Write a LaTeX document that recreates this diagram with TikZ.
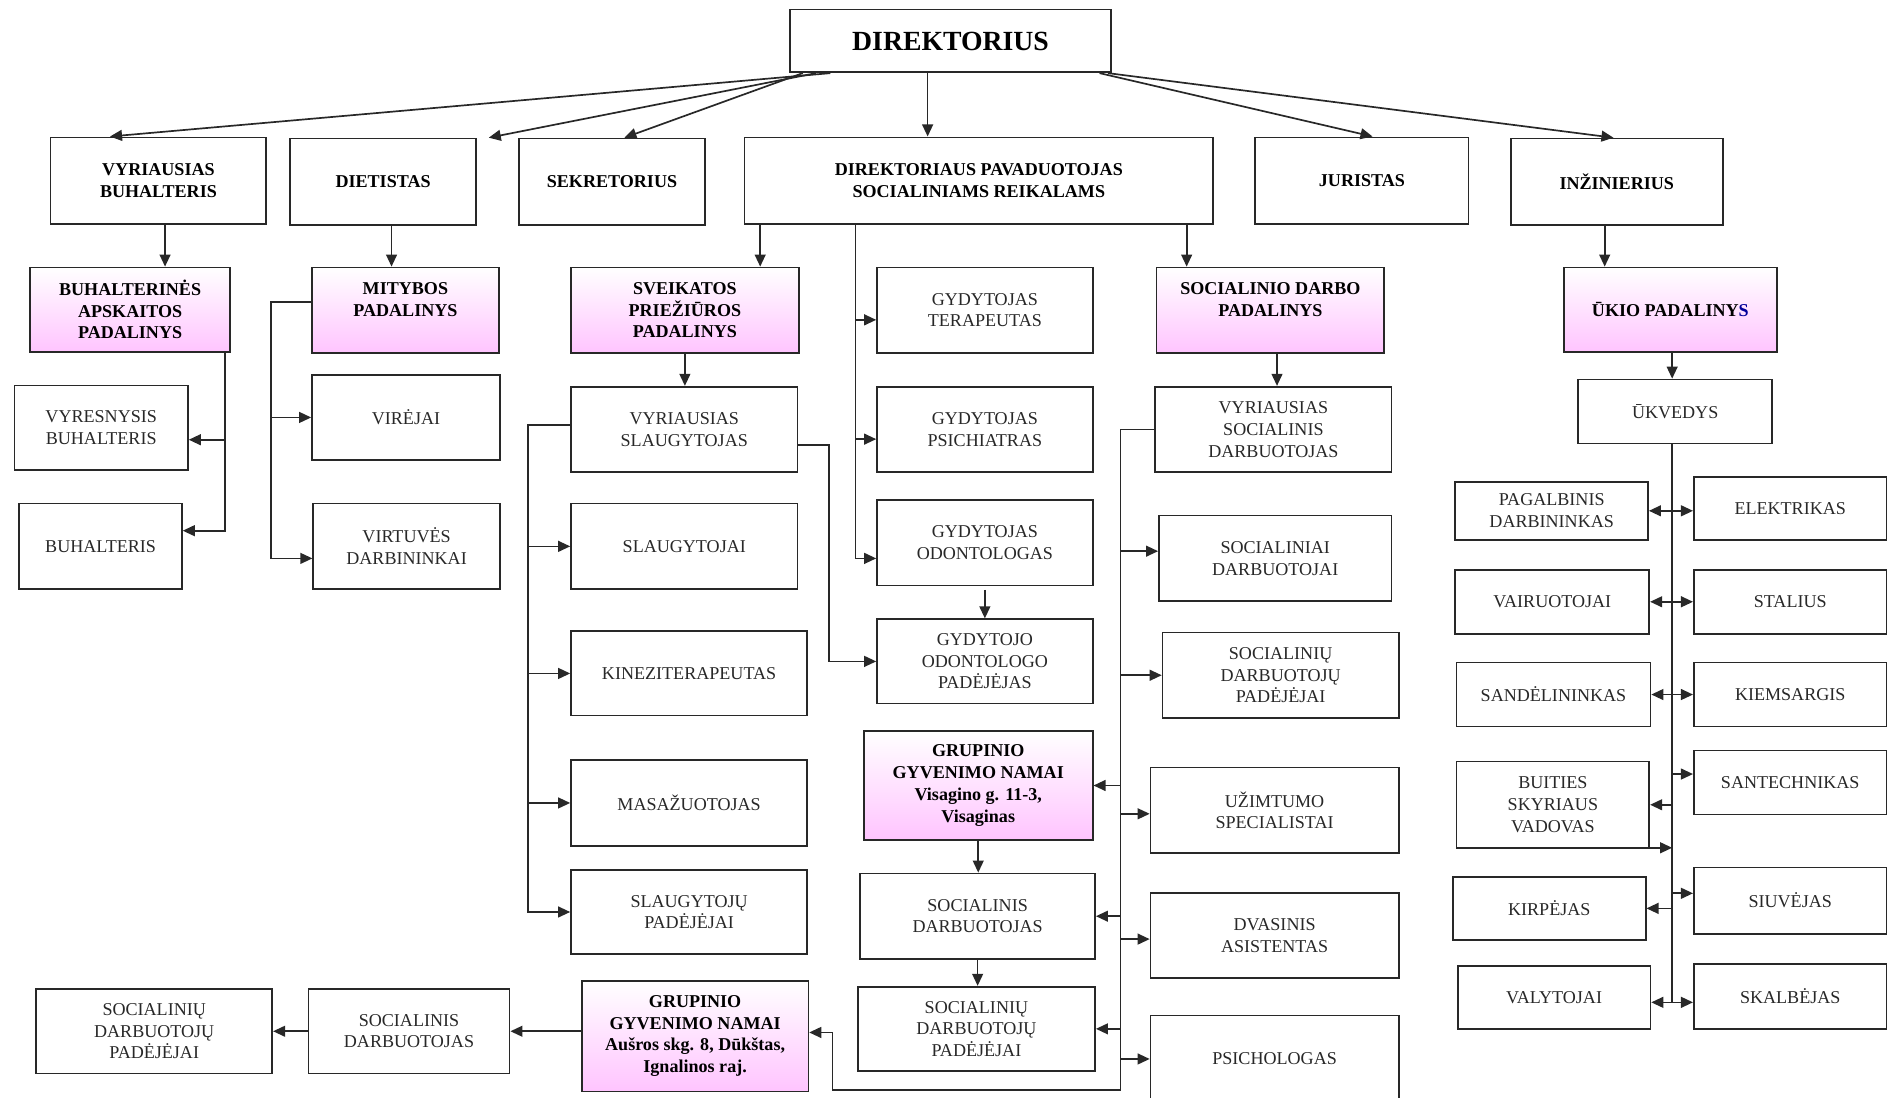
\documentclass[tikz,border=0pt]{standalone}
\usepackage{fontspec}
\setmainfont{Liberation Serif}
\usetikzlibrary{arrows.meta}
\definecolor{pinkb}{RGB}{255,196,255}
\definecolor{ink}{RGB}{40,40,40}
\tikzset{
  box/.style={draw=ink, line width=1.4pt, fill=white, align=center, inner sep=1pt, text=ink, font=\fontsize{15}{18}\selectfont},
  bbox/.style={box, text=black, font=\bfseries\fontsize{15}{18}\selectfont},
  pbox/.style={bbox, top color=white, bottom color=pinkb},
  arr/.style={draw=ink, line width=1.4pt, -{Triangle[length=10pt,width=9pt]}},
  ln/.style={draw=ink, line width=1.4pt},
}
\newcommand\orgbox[7]{%
  \pgfmathsetmacro\obw{#5-#3}%
  \pgfmathsetmacro\obh{#6-#4}%
  \node[#1, minimum width=\obw pt, minimum height=\obh pt] (#2) at ({(#3+#5)/2},{(#4+#6)/2}) {#7};}
\begin{document}
\begin{tikzpicture}[x=1pt,y=-1pt]
\path[use as bounding box] (0,0) rectangle (1568,911.4);
\fill[white] (0,0) rectangle (1568,911.4);
\clip (0,0) rectangle (1568,911.4);
% top level
\orgbox{bbox, font=\bfseries\fontsize{23}{27}\selectfont}{dir}{656}{8}{922}{60}{DIREKTORIUS}
\orgbox{bbox}{vb}{42}{114}{221}{186}{VYRIAUSIAS\\BUHALTERIS}
\orgbox{bbox}{diet}{241}{115}{395}{187}{DIETISTAS}
\orgbox{bbox}{sek}{431}{115}{585}{187}{SEKRETORIUS}
\orgbox{bbox}{dpsr}{618}{114}{1007}{186}{DIREKTORIAUS PAVADUOTOJAS\\SOCIALINIAMS REIKALAMS}
\orgbox{bbox}{jur}{1042}{114}{1219}{186}{JURISTAS}
\orgbox{bbox}{inz}{1254}{115}{1430}{187}{INŽINIERIUS}
% second row
\orgbox{pbox}{bap}{25}{222}{191}{292}{BUHALTERINĖS\\APSKAITOS\\PADALINYS}
\orgbox{pbox}{mit}{259}{222}{414}{293}{MITYBOS\\PADALINYS\\\mbox{}}
\orgbox{pbox}{sp}{474}{222}{663}{293}{SVEIKATOS\\PRIEŽIŪROS\\PADALINYS}
\orgbox{box}{gt}{728}{222}{907}{293}{GYDYTOJAS\\TERAPEUTAS}
\orgbox{pbox}{sdp}{960}{222}{1149}{293}{SOCIALINIO DARBO\\PADALINYS\\\mbox{}}
\orgbox{pbox}{ukp}{1298}{222}{1475}{292}{ŪKIO PADALINY\textcolor{blue!60!black}{S}}
% accounting / kitchen
\orgbox{box}{vbuh}{12}{320}{156}{390}{VYRESNYSIS\\BUHALTERIS}
\orgbox{box}{buh}{16}{418}{151}{489}{BUHALTERIS}
\orgbox{box}{vir}{259}{311}{415}{382}{VIRĖJAI}
\orgbox{box}{virt}{260}{418}{415}{489}{VIRTUVĖS\\DARBININKAI}
% health
\orgbox{box}{vsl}{474}{321}{662}{392}{VYRIAUSIAS\\SLAUGYTOJAS}
\orgbox{box}{sla}{474}{418}{662}{489}{SLAUGYTOJAI}
\orgbox{box}{kin}{474}{524}{670}{594}{KINEZITERAPEUTAS}
\orgbox{box}{mas}{474}{631}{670}{702}{MASAŽUOTOJAS}
\orgbox{box}{slp}{474}{722}{670}{792}{SLAUGYTOJŲ\\PADĖJĖJAI}
\orgbox{box}{gps}{728}{321}{907}{392}{GYDYTOJAS\\PSICHIATRAS}
\orgbox{box}{god}{728}{415}{907}{486}{GYDYTOJAS\\ODONTOLOGAS}
\orgbox{box}{gop}{728}{514}{907}{584}{GYDYTOJO\\ODONTOLOGO\\PADĖJĖJAS}
% group homes
\orgbox{pbox}{ggv}{717}{607}{907}{697}{GRUPINIO\\GYVENIMO NAMAI\\Visagino g. 11-3,\\Visaginas}
\orgbox{box}{sd1}{714}{725}{909}{796}{SOCIALINIS\\DARBUOTOJAS}
\orgbox{box}{sdpad1}{712}{819}{909}{889}{SOCIALINIŲ\\DARBUOTOJŲ\\PADĖJĖJAI}
\orgbox{pbox}{gga}{483}{814}{671}{906}{GRUPINIO\\GYVENIMO NAMAI\\Aušros skg. 8, Dūkštas,\\Ignalinos raj.}
\orgbox{box}{sd2}{256}{821}{423}{891}{SOCIALINIS\\DARBUOTOJAS}
\orgbox{box}{sdpad2}{30}{821}{226}{891}{SOCIALINIŲ\\DARBUOTOJŲ\\PADĖJĖJAI}
% social work
\orgbox{box}{vsd}{959}{321}{1155}{392}{VYRIAUSIAS\\SOCIALINIS\\DARBUOTOJAS}
\orgbox{box}{sdj}{962}{428}{1155}{499}{SOCIALINIAI\\DARBUOTOJAI}
\orgbox{box}{sdjp}{965}{525}{1161}{596}{SOCIALINIŲ\\DARBUOTOJŲ\\PADĖJĖJAI}
\orgbox{box}{uzs}{955}{637}{1161}{708}{UŽIMTUMO\\SPECIALISTAI}
\orgbox{box}{dva}{955}{741}{1161}{812}{DVASINIS\\ASISTENTAS}
\orgbox{box}{psi}{955}{843}{1161}{915}{PSICHOLOGAS}
% household
\orgbox{box}{ukv}{1310}{315}{1471}{368}{ŪKVEDYS}
\orgbox{box}{pag}{1208}{400}{1368}{448}{PAGALBINIS\\DARBININKAS}
\orgbox{box}{vai}{1208}{473}{1369}{526}{VAIRUOTOJAI}
\orgbox{box}{san}{1209}{550}{1370}{603}{SANDĖLININKAS}
\orgbox{box}{bui}{1209}{632}{1369}{704}{BUITIES\\SKYRIAUS\\VADOVAS}
\orgbox{box}{kir}{1206}{728}{1366}{780}{KIRPĖJAS}
\orgbox{box}{val}{1210}{802}{1370}{854}{VALYTOJAI}
\orgbox{box}{ele}{1406}{396}{1566}{448}{ELEKTRIKAS}
\orgbox{box}{sta}{1406}{473}{1566}{526}{STALIUS}
\orgbox{box}{kie}{1406}{550}{1566}{603}{KIEMSARGIS}
\orgbox{box}{ste}{1406}{623}{1566}{676}{SANTECHNIKAS}
\orgbox{box}{siu}{1406}{720}{1566}{775}{SIUVĖJAS}
\orgbox{box}{ska}{1406}{800}{1566}{854}{SKALBĖJAS}
% helper coordinates
\coordinate (xVB) at (137,0);
\coordinate (xDI) at (325,0);
\coordinate (xSP) at (631,0);
\coordinate (xSD) at (985,0);
\coordinate (xIN) at (1332,0);
\coordinate (xBA) at (187,0);
\coordinate (xMI) at (225,0);
\coordinate (xSL) at (438,0);
\coordinate (xGO) at (688,0);
\coordinate (xDP) at (710,0);
\coordinate (xSDP) at (1060,0);
\coordinate (xSW) at (930,0);
\coordinate (xGG) at (691,0);
\coordinate (yBT) at (0,905);
\coordinate (xUK) at (1388,0);
\coordinate (xCT) at (770,0);
\coordinate (vbuhIn) at ([yshift=-10pt]vbuh.east);
\coordinate (buhIn) at ([yshift=13pt]buh.east);
\coordinate (virtIn) at ([yshift=-10pt]virt.west);
\coordinate (vslL) at ([yshift=4pt]vsl.west);
\coordinate (vslR) at ([yshift=-13pt]vsl.east);
\coordinate (mitL) at ([yshift=7pt]mit.west);
\coordinate (gtIn) at ([yshift=-8pt]gt.west);
\coordinate (gpsIn) at ([yshift=-8pt]gps.west);
\coordinate (godIn) at ([yshift=-13pt]god.west);
\coordinate (sdjIn) at ([yshift=6pt]sdj.west);
\coordinate (uzsIn) at ([yshift=-3pt]uzs.west);
\coordinate (dvaIn) at ([yshift=-3pt]dva.west);
\coordinate (ggaIn) at ([yshift=3pt]gga.east);
\coordinate (steIn) at ([yshift=7pt]ste.west);
\coordinate (siuIn) at ([yshift=6pt]siu.west);
\coordinate (valIn) at ([yshift=-4pt]val.east);
\coordinate (buiOut) at ([yshift=1pt]bui.south east);
% director connectors
\draw[arr] ([xshift=34pt]dir.south west) -- ([xshift=50pt]vb.north west);
\draw[arr] ([xshift=22pt]dir.south west) -- ([xshift=10pt]diet.north east);
\draw[arr] ([xshift=11pt]dir.south west) -- ([xshift=88pt]sek.north west);
\draw[arr] (dir.south -| xCT) -- (dpsr.north -| xCT);
\draw[arr] ([xshift=-10pt]dir.south east) -- ([xshift=98pt]jur.north west);
\draw[arr] ([xshift=-3pt]dir.south east) -- ([xshift=86pt]inz.north west);
% second level
\draw[arr] (vb.south -| xVB) -- (bap.north -| xVB);
\draw[arr] (diet.south -| xDI) -- (mit.north -| xDI);
\draw[arr] (dpsr.south -| xSP) -- (sp.north -| xSP);
\draw[arr] (dpsr.south -| xSD) -- (sdp.north -| xSD);
\draw[arr] (inz.south -| xIN) -- (ukp.north -| xIN);
% accounting
\draw[arr] (bap.south -| xBA) |- (buhIn);
\draw[arr] (xBA |- vbuhIn) -- (vbuhIn);
% kitchen
\draw[arr] (mitL) -| (xMI |- virtIn) -- (virtIn);
\draw[arr] (xMI |- vir.west) -- (vir.west);
% health
\draw[arr] (sp.south) -- (sp.south |- vsl.north);
\draw[arr] (vslL) -| (xSL |- slp.west) -- (slp.west);
\foreach \n in {sla,kin,mas} \draw[arr] (xSL |- \n.west) -- (\n.west);
\draw[arr] (vslR) -| (xGO |- gop.west) -- (gop.west);
\draw[arr] (dpsr.south -| xDP) |- (godIn);
\draw[arr] (xDP |- gtIn) -- (gtIn);
\draw[arr] (xDP |- gpsIn) -- (gpsIn);
\draw[arr] ([yshift=-3pt]god.south) -- (gop.north);
% group home Visaginas
\draw[arr] (ggv.south) -- (ggv.south |- sd1.north);
\draw[arr] (sd1.south) -- (sd1.south |- sdpad1.north);
% social work
\draw[arr] (sdp.south -| xSDP) -- (vsd.north -| xSDP);
\draw[arr] (vsd.west) -| (xSW |- yBT) -| (xGG |- ggaIn) -- (ggaIn);
\foreach \c in {sdjIn, sdjp.west, uzsIn, dvaIn, psi.west} \draw[arr] (xSW |- \c) -- (\c);
\foreach \n in {ggv, sd1, sdpad1} \draw[arr] (xSW |- \n.east) -- (\n.east);
% group home Dukstas
\draw[arr] (gga.west |- sd2.east) -- (sd2.east);
\draw[arr] (sd2.west) -- (sdpad2.east);
% household
\draw[arr] (ukp.south -| xUK) -- (ukv.north -| xUK);
\draw[ln] (ukv.south -| xUK) -- (xUK |- valIn);
\foreach \l/\r in {pag/ele, vai/sta, san/kie} {
  \draw[arr] (xUK |- \l.east) -- (\l.east);
  \draw[arr] (xUK |- \l.east) -- (\r.west |- \l.east);
}
\draw[arr] (xUK |- valIn) -- (valIn);
\draw[arr] (xUK |- valIn) -- (ska.west |- valIn);
\draw[arr] (xUK |- bui.east) -- (bui.east);
\draw[arr] (buiOut) -- (xUK |- buiOut);
\draw[arr] (xUK |- steIn) -- (steIn);
\draw[arr] (xUK |- kir.east) -- (kir.east);
\draw[arr] (xUK |- siuIn) -- (siuIn);
\end{tikzpicture}
\end{document}
